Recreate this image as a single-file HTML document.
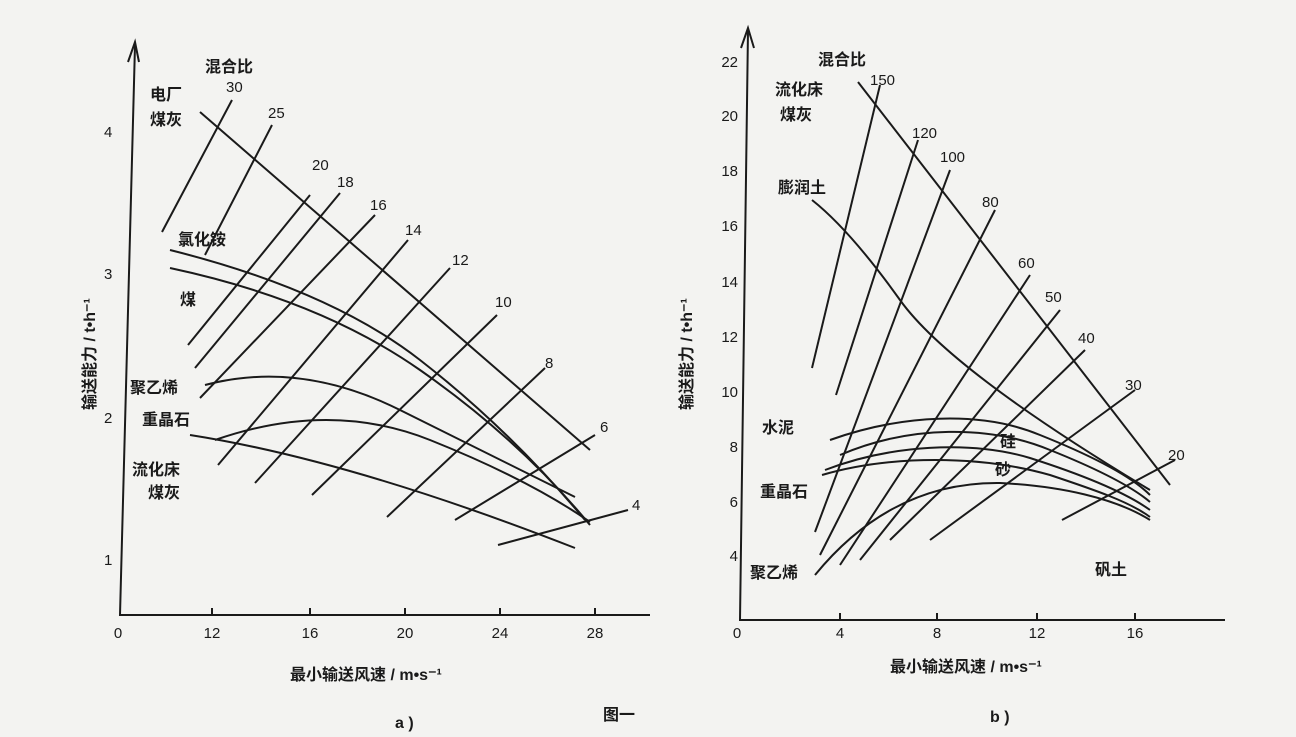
<!DOCTYPE html>
<html><head><meta charset="utf-8"><style>
html,body{margin:0;padding:0;background:#f2f2f0;}
svg{display:block;}
text{font-family:"Liberation Sans","Noto Sans CJK SC",sans-serif;fill:#1a1a1a;}
.t{font-size:16px;font-weight:bold;}
.n{font-size:15px;}
</style></head><body>
<svg width="1296" height="737" viewBox="0 0 1296 737" xmlns="http://www.w3.org/2000/svg">
<rect width="1296" height="737" fill="#f3f3f1"/>
<g stroke="#1a1a1a" stroke-width="2" fill="none">
<polyline points="135,45 120,615 650,615"/>
<polyline points="128,62 135,42 139,62"/>
<line x1="212" y1="615" x2="212" y2="608"/><line x1="310" y1="615" x2="310" y2="608"/><line x1="405" y1="615" x2="405" y2="608"/><line x1="500" y1="615" x2="500" y2="608"/><line x1="595" y1="615" x2="595" y2="608"/>
<line x1="162" y1="232" x2="232" y2="100"/>
<line x1="205" y1="255" x2="272" y2="125"/>
<line x1="188" y1="345" x2="310" y2="195"/>
<line x1="195" y1="368" x2="340" y2="193"/>
<line x1="200" y1="398" x2="375" y2="215"/>
<line x1="218" y1="465" x2="408" y2="240"/>
<line x1="255" y1="483" x2="450" y2="268"/>
<line x1="312" y1="495" x2="497" y2="315"/>
<line x1="387" y1="517" x2="545" y2="368"/>
<line x1="455" y1="520" x2="595" y2="435"/>
<line x1="498" y1="545" x2="628" y2="510"/>
<line x1="200" y1="112" x2="590" y2="450"/>
<path d="M170,250 Q330,290 420,360 T585,520"/>
<path d="M170,268 Q320,300 420,370 T590,525"/>
<path d="M205,385 Q300,360 400,410 T575,497"/>
<path d="M215,440 Q330,400 430,440 T590,522"/>
<path d="M190,435 Q350,460 575,548"/>
<polyline points="748,30 740,620 1225,620"/>
<polyline points="741,48 748,28 754,48"/>
<line x1="840" y1="620" x2="840" y2="613"/><line x1="937" y1="620" x2="937" y2="613"/><line x1="1037" y1="620" x2="1037" y2="613"/><line x1="1135" y1="620" x2="1135" y2="613"/>
<line x1="812" y1="368" x2="880" y2="85"/>
<line x1="836" y1="395" x2="918" y2="140"/>
<line x1="815" y1="532" x2="950" y2="170"/>
<line x1="820" y1="555" x2="995" y2="210"/>
<line x1="840" y1="565" x2="1030" y2="275"/>
<line x1="860" y1="560" x2="1060" y2="310"/>
<line x1="890" y1="540" x2="1085" y2="350"/>
<line x1="930" y1="540" x2="1135" y2="390"/>
<line x1="1062" y1="520" x2="1175" y2="460"/>
<line x1="858" y1="82" x2="1170" y2="485"/>
<path d="M812,200 Q850,230 900,300 T1150,490"/>
<path d="M830,440 C900,415 980,410 1040,435 C1090,455 1130,475 1150,495"/>
<path d="M840,455 C910,425 990,425 1050,450 C1095,468 1130,485 1150,502"/>
<path d="M825,470 C890,445 970,440 1030,458 C1080,474 1125,492 1150,510"/>
<path d="M822,475 C890,455 980,455 1050,475 C1095,490 1130,502 1150,517"/>
<path d="M815,575 C860,520 920,482 1000,483 C1060,486 1115,498 1150,520"/>
</g>
<g class="n">
<text x="212" y="638" text-anchor="middle">12</text><text x="310" y="638" text-anchor="middle">16</text><text x="405" y="638" text-anchor="middle">20</text><text x="500" y="638" text-anchor="middle">24</text><text x="595" y="638" text-anchor="middle">28</text><text x="118" y="638" text-anchor="middle">0</text>
<text x="104" y="565">1</text><text x="104" y="423">2</text><text x="104" y="279">3</text><text x="104" y="137">4</text>
<text x="226" y="92">30</text><text x="268" y="118">25</text><text x="312" y="170">20</text><text x="337" y="187">18</text><text x="370" y="210">16</text><text x="405" y="235">14</text><text x="452" y="265">12</text><text x="495" y="307">10</text><text x="545" y="368">8</text><text x="600" y="432">6</text><text x="632" y="510">4</text>
<text x="737" y="638" text-anchor="middle">0</text><text x="840" y="638" text-anchor="middle">4</text><text x="937" y="638" text-anchor="middle">8</text><text x="1037" y="638" text-anchor="middle">12</text><text x="1135" y="638" text-anchor="middle">16</text>
<text x="738" y="561" text-anchor="end">4</text><text x="738" y="507" text-anchor="end">6</text><text x="738" y="452" text-anchor="end">8</text><text x="738" y="397" text-anchor="end">10</text><text x="738" y="342" text-anchor="end">12</text><text x="738" y="287" text-anchor="end">14</text><text x="738" y="231" text-anchor="end">16</text><text x="738" y="176" text-anchor="end">18</text><text x="738" y="121" text-anchor="end">20</text><text x="738" y="67" text-anchor="end">22</text>
<text x="870" y="85">150</text><text x="912" y="138">120</text><text x="940" y="162">100</text><text x="982" y="207">80</text><text x="1018" y="268">60</text><text x="1045" y="302">50</text><text x="1078" y="343">40</text><text x="1125" y="390">30</text><text x="1168" y="460">20</text>
</g>
<g class="t">
<text x="205" y="72">混合比</text>
<text x="150" y="100">电厂</text><text x="150" y="125">煤灰</text>
<text x="178" y="245">氯化铵</text>
<text x="180" y="305">煤</text>
<text x="130" y="393">聚乙烯</text>
<text x="142" y="425">重晶石</text>
<text x="132" y="475">流化床</text><text x="148" y="498">煤灰</text>
<text x="290" y="680">最小输送风速 / m•s⁻¹</text>
<text x="395" y="728">a )</text>
<text x="603" y="720">图一</text>
<text transform="translate(95,410) rotate(-90)">输送能力 / t•h⁻¹</text>
<text x="818" y="65">混合比</text>
<text x="775" y="95">流化床</text><text x="780" y="120">煤灰</text>
<text x="778" y="193">膨润土</text>
<text x="762" y="433">水泥</text>
<text x="760" y="497">重晶石</text>
<text x="750" y="578">聚乙烯</text>
<text x="1000" y="447">硅</text>
<text x="995" y="475">砂</text>
<text x="1095" y="575">矾土</text>
<text x="890" y="672">最小输送风速 / m•s⁻¹</text>
<text x="990" y="722">b )</text>
<text transform="translate(692,410) rotate(-90)">输送能力 / t•h⁻¹</text>
</g>
</svg>
</body></html>
